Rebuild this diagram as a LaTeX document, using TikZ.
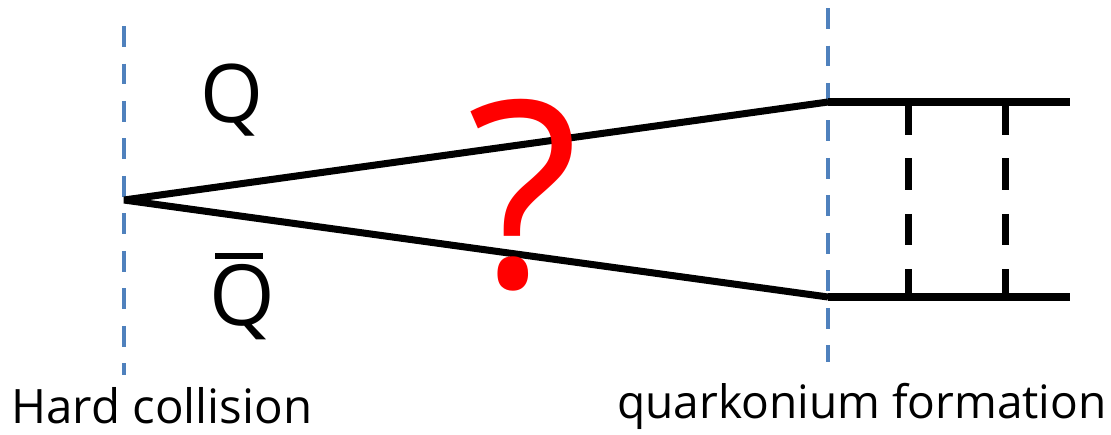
\documentclass[tikz,border=0pt]{standalone}
\usepackage{fontspec}
\setmainfont{Open Sans}
\definecolor{axisblue}{RGB}{79,129,189}
\tikzset{
  cut/.style={axisblue,line width=2.8pt,dash pattern=on 0.42cm off 0.33cm},
  quark/.style={line width=4pt},
  gluon/.style={line width=4pt,dash pattern=on 0.63cm off 0.48cm},
}
\newcommand{\antiq}{\rlap{\hspace{0.07em}\raisebox{0.78em}{\rule{0.57em}{0.08em}}}Q}

\begin{document}
\begin{tikzpicture}[x=0.02cm,y=-0.02cm]
        \useasboundingbox (0,0) rectangle (1111,434);
        % vertex and formation points
        \coordinate (V) at (124,200);
        \coordinate (A) at (828,102);
        \coordinate (B) at (828,297);
        \coordinate (C) at (1070,102);
        \coordinate (D) at (1070,297);
        % time cuts
        \draw[cut] (124,26) coordinate (L1) -- (124,375) coordinate (L2);
        \draw[cut] (828,8) coordinate (R1) -- (828,362) coordinate (R2);
        % heavy quark pair
        \draw[quark,line join=bevel] (A) -- (V) -- (B);
        \draw[quark] (A) -- (C);
        \draw[quark] (B) -- (D);
        \draw[gluon] (908,103) coordinate (G1) -- (908,297) coordinate (G2);
        \draw[gluon] (1005,103) coordinate (G3) -- (1005,297) coordinate (G4);
        \node (Q) at (232,100) {\fontsize{46}{48}\selectfont Q};
        \node (Qb) at (242,296) {\fontsize{48}{50}\selectfont \antiq};
        \node[red] (ask) at (523,195) {\fontsize{148}{150}\selectfont ?};
        \node[anchor=base] (hard) at (162,423) {\fontsize{27}{29}\selectfont Hard collision};
        \node[anchor=base] (form) at (862,418) {\fontsize{26.2}{28}\selectfont quarkonium formation};
    \end{tikzpicture}
\end{document}
